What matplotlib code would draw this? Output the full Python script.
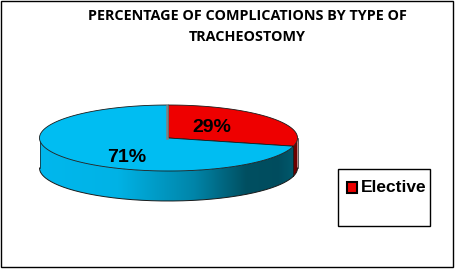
import numpy as np
import matplotlib
matplotlib.use("Agg")
import matplotlib.pyplot as plt
from matplotlib.patches import Polygon, Rectangle

# data
types = ['Elective', 'Emergency']
values = [29, 71]
labels = ['29%', '71%']
top_colors = ['#ee0000', '#00bdf2']
legend_types = ['Elective']

fig = plt.figure(figsize=(4.57, 2.69), dpi=100)
ax = fig.add_axes([0, 0, 1, 1])
ax.set_xlim(0, 457)
ax.set_ylim(269, 0)
ax.axis('off')

# pie geometry in pixels (tilted 3d look)
cx, cy, a, b, depth = 168.5, 138.0, 129.0, 33.0, 30.0


def pt(t):
    # t in degrees, clockwise from 12 o'clock
    r = np.radians(t)
    return cx + a * np.sin(r), cy - b * np.cos(r)


def side_color(s, kind):
    if kind == 0:
        keys = [-1, 0, 0.6, 1]
        cols = [(0.55, 0.0, 0.0), (0.55, 0.0, 0.0), (0.5, 0.0, 0.0), (0.42, 0.0, 0.0)]
    else:
        keys = [-1, -0.4, 0.2, 0.6, 0.85, 1]
        cols = [(0.0, 0.72, 0.93), (0.0, 0.70, 0.90), (0.0, 0.52, 0.66),
                (0.0, 0.31, 0.38), (0.0, 0.30, 0.37), (0.0, 0.36, 0.44)]
    cols = np.array(cols)
    return np.stack([np.interp(s, keys, cols[:, i]) for i in range(3)], axis=-1)


fracs = np.array(values) / np.sum(values)
starts = np.concatenate([[0], np.cumsum(fracs)[:-1]]) * 360
ends = np.cumsum(fracs) * 360

# side walls (front half only: 90..270 deg), shaded with a clipped gradient
for i in range(len(values)):
    lo, hi = max(starts[i], 90), min(ends[i], 270)
    if hi <= lo:
        continue
    ts = np.linspace(lo, hi, 300)
    xs, ys = pt(ts)
    verts = list(zip(xs, ys)) + list(zip(xs[::-1], ys[::-1] + depth))
    wall = Polygon(verts, closed=True, facecolor='none', edgecolor='none')
    ax.add_patch(wall)
    gx = np.linspace(cx - a, cx + a, 400)
    grad = side_color((gx - cx) / a, i)[None, :, :]
    im = ax.imshow(grad, extent=(cx - a, cx + a, cy + b + depth + 2, cy - b - 2),
                   aspect='auto', interpolation='bilinear', zorder=1)
    im.set_clip_path(wall)
    ax.plot(xs, ys + depth, color='#1a1a1a', lw=0.7, zorder=2)
    for t in (lo, hi):
        x, y = pt(t)
        ax.plot([x, x], [y, y + depth], color='#1a1a1a', lw=0.5, zorder=2)

# top faces
for i in range(len(values)):
    ts = np.linspace(starts[i], ends[i], 300)
    xs, ys = pt(ts)
    poly = [(cx, cy)] + list(zip(xs, ys))
    ax.add_patch(Polygon(poly, closed=True, facecolor=top_colors[i],
                         edgecolor='#1a1a1a', lw=0.6, zorder=3))

# thin cut face at 12 o'clock
ax.plot([cx - 1.2, cx - 1.2], [cy - b + 1, cy], color='#808080', lw=1.8, zorder=4)

# data labels
label_pos = [(212, 127), (127, 157)]
for lab, (x, y) in zip(labels, label_pos):
    ax.text(x, y, lab, ha='center', va='center', fontsize=14, fontweight='bold',
            family='Liberation Sans', color='black', zorder=5)

# title
ax.text(247, 16, 'PERCENTAGE OF COMPLICATIONS BY TYPE OF', ha='center', va='center',
        fontsize=10.4, fontweight='bold', family='Open Sans')
ax.text(247, 37, 'TRACHEOSTOMY', ha='center', va='center',
        fontsize=10.4, fontweight='bold', family='Open Sans')

# legend box
ax.add_patch(Rectangle((338, 169), 92, 57, facecolor='white', edgecolor='black', lw=1))
for k, name in enumerate(legend_types):
    ax.add_patch(Rectangle((347, 182 + k * 18), 10, 11, facecolor=top_colors[types.index(name)],
                           edgecolor='black', lw=1.5))
    ax.text(361, 188 + k * 18, name, ha='left', va='center', fontsize=12.5,
            fontweight='bold', family='Liberation Sans')

# chart border
ax.add_patch(Rectangle((0.5, 0.5), 452.5, 266.5, facecolor='none', edgecolor='black', lw=1))

fig.savefig('out.png', dpi=100)
